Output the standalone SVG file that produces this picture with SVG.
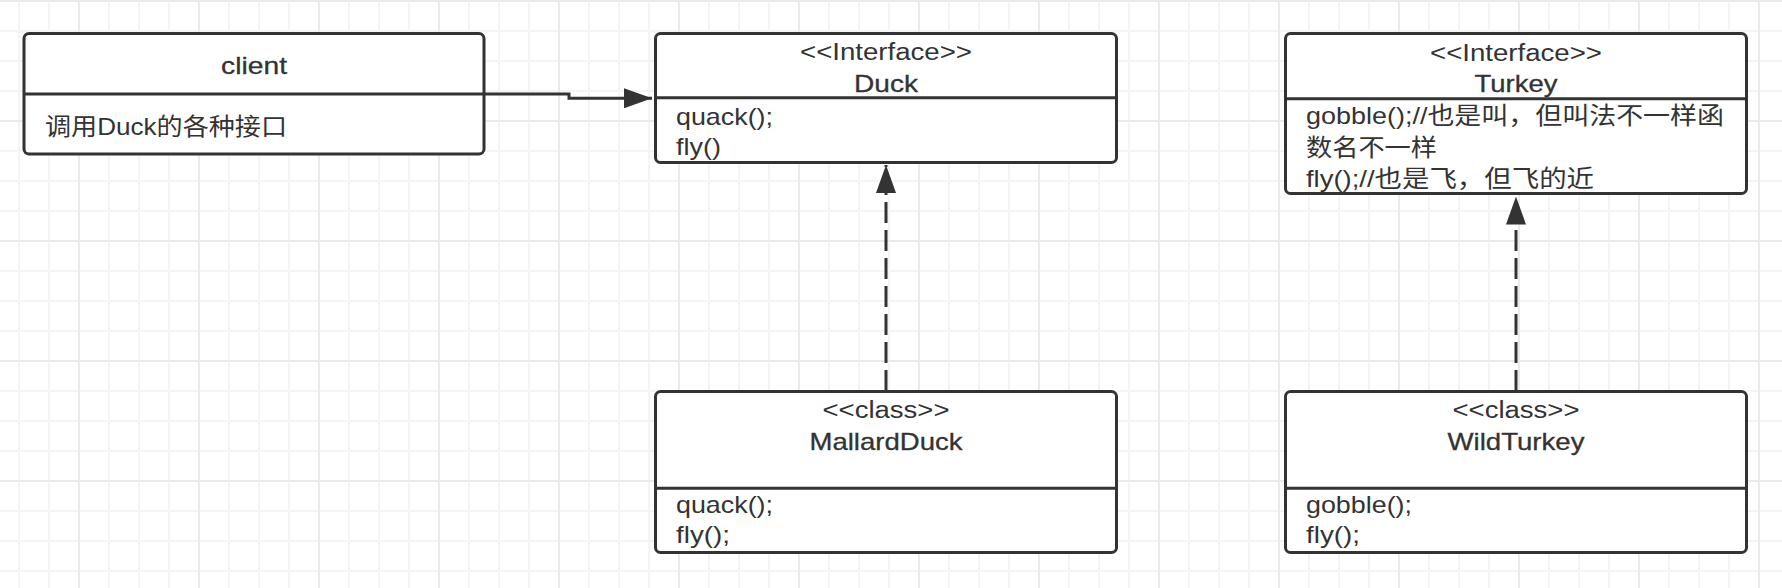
<svg xmlns="http://www.w3.org/2000/svg" width="1782" height="588" viewBox="0 0 1782 588">
  <defs>
    <pattern id="gridMinor" patternUnits="userSpaceOnUse" x="4" y="-14" width="30" height="30">
      <path d="M15 0V30M0 15H30" stroke="#f4f4f4" stroke-width="2" fill="none"/>
    </pattern>
    <pattern id="gridMajor" patternUnits="userSpaceOnUse" x="19" y="-59" width="120" height="120">
      <path d="M60 0V120M0 60H120" stroke="#eaeaea" stroke-width="2" fill="none"/>
    </pattern>
    <marker id="arrow" markerUnits="userSpaceOnUse" viewBox="0 0 28 20" refX="28" refY="10" markerWidth="28" markerHeight="20" orient="auto">
      <path d="M0 0L28 10L0 20Z" fill="#333333"/>
    </marker>
    <style>
      .box { fill: #ffffff; stroke: #333333; stroke-width: 3; }
      .div { stroke: #333333; stroke-width: 3; fill: none; }
      text { font-family: "Liberation Sans", "Noto Sans CJK SC", sans-serif; font-size: 24px; fill: #333333; }
      .c { text-anchor: middle; }
      .st { font-size: 23px; }
      .name { stroke: #333333; stroke-width: 0.3; }
      .conn { stroke: #333333; stroke-width: 3; fill: none; }
      .dash { stroke-dasharray: 21 7; }
    </style>
  </defs>

  <rect x="0" y="0" width="1782" height="588" fill="#ffffff"/>
  <rect x="0" y="0" width="1782" height="588" fill="url(#gridMinor)"/>
  <rect x="0" y="0" width="1782" height="588" fill="url(#gridMajor)"/>

  <g id="client">
    <rect class="box" x="24" y="33.5" width="460" height="120.5" rx="5"/>
    <line class="div" x1="24" y1="94" x2="484" y2="94"/>
    <text class="c name" x="254" y="74" textLength="66" lengthAdjust="spacingAndGlyphs">client</text>
    <text x="45" y="135" textLength="242" lengthAdjust="spacingAndGlyphs">调用Duck的各种接口</text>
  </g>

  <g id="duck">
    <rect class="box" x="655.5" y="33.5" width="461" height="129" rx="5"/>
    <line class="div" x1="655.5" y1="97.7" x2="1116.5" y2="97.7"/>
    <text class="c st" x="886" y="60" textLength="172" lengthAdjust="spacingAndGlyphs">&lt;&lt;Interface&gt;&gt;</text>
    <text class="c name" x="886" y="91.5" textLength="64" lengthAdjust="spacingAndGlyphs">Duck</text>
    <text x="676" y="125" textLength="97" lengthAdjust="spacingAndGlyphs">quack();</text>
    <text x="676" y="155" textLength="45" lengthAdjust="spacingAndGlyphs">fly()</text>
  </g>

  <g id="turkey">
    <rect class="box" x="1285.5" y="33.5" width="461" height="160" rx="5"/>
    <line class="div" x1="1285.5" y1="98.7" x2="1746.5" y2="98.7"/>
    <text class="c st" x="1516" y="60.5" textLength="172" lengthAdjust="spacingAndGlyphs">&lt;&lt;Interface&gt;&gt;</text>
    <text class="c name" x="1516" y="91.5" textLength="83" lengthAdjust="spacingAndGlyphs">Turkey</text>
    <text x="1306" y="124" textLength="418" lengthAdjust="spacingAndGlyphs">gobble();//也是叫，但叫法不一样函</text>
    <text x="1306" y="155.5" textLength="131" lengthAdjust="spacingAndGlyphs">数名不一样</text>
    <text x="1306" y="187" textLength="288" lengthAdjust="spacingAndGlyphs">fly();//也是飞，但飞的近</text>
  </g>

  <g id="mallardDuck">
    <rect class="box" x="655.5" y="391.5" width="461" height="161" rx="5"/>
    <line class="div" x1="655.5" y1="488.3" x2="1116.5" y2="488.3"/>
    <text class="c st" x="886" y="417.5" textLength="127" lengthAdjust="spacingAndGlyphs">&lt;&lt;class&gt;&gt;</text>
    <text class="c name" x="886" y="450" textLength="153" lengthAdjust="spacingAndGlyphs">MallardDuck</text>
    <text x="676" y="513.3" textLength="97" lengthAdjust="spacingAndGlyphs">quack();</text>
    <text x="676" y="543.3" textLength="54" lengthAdjust="spacingAndGlyphs">fly();</text>
  </g>

  <g id="wildTurkey">
    <rect class="box" x="1285.5" y="391.5" width="461" height="161" rx="5"/>
    <line class="div" x1="1285.5" y1="488.3" x2="1746.5" y2="488.3"/>
    <text class="c st" x="1516" y="417.5" textLength="127" lengthAdjust="spacingAndGlyphs">&lt;&lt;class&gt;&gt;</text>
    <text class="c name" x="1516" y="450" textLength="137" lengthAdjust="spacingAndGlyphs">WildTurkey</text>
    <text x="1306" y="513.3" textLength="106" lengthAdjust="spacingAndGlyphs">gobble();</text>
    <text x="1306" y="543.3" textLength="54" lengthAdjust="spacingAndGlyphs">fly();</text>
  </g>

  <g id="connectors">
    <path class="conn" d="M484 94H569V98.3H652" marker-end="url(#arrow)"/>
    <path class="conn dash" d="M886 391V165" marker-end="url(#arrow)"/>
    <path class="conn dash" d="M1516 391V196.5" marker-end="url(#arrow)"/>
  </g>
</svg>
